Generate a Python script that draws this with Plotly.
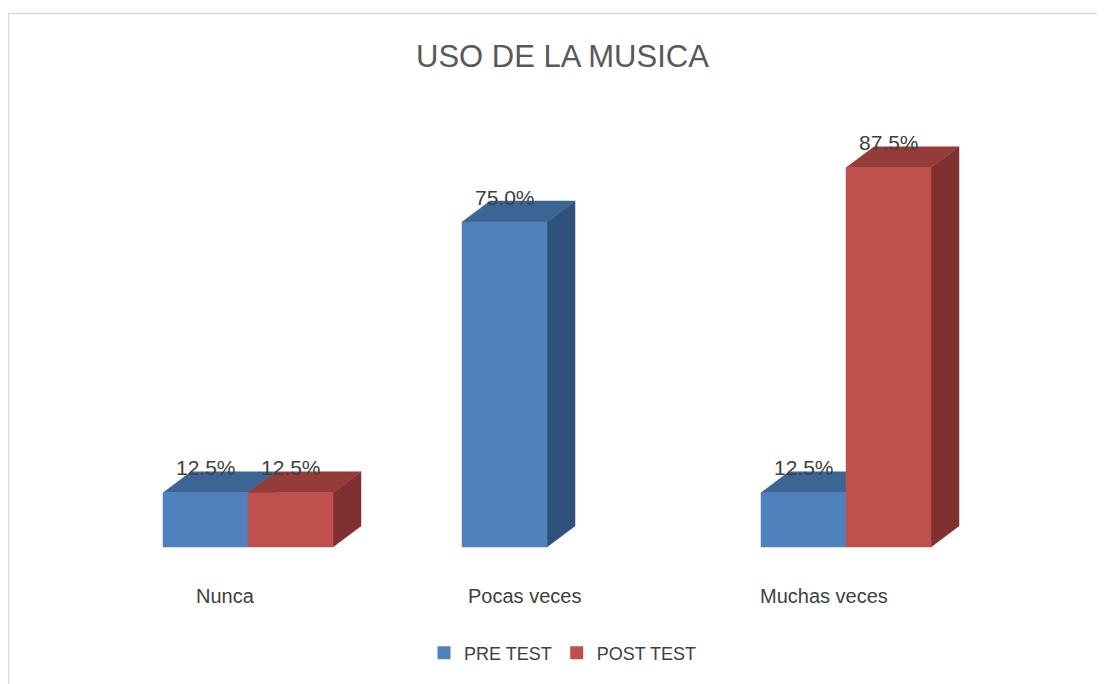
import plotly.graph_objects as go

# ---- data ----
categories = ["Nunca", "Pocas veces", "Muchas veces"]
series_names = ["PRE TEST", "POST TEST"]
pre_test = [12.5, 75.0, 12.5]
post_test = [12.5, 0.0, 87.5]
title_text = "USO DE LA MUSICA"

# ---- style ----
OFF = 8  # page body margin
W, H = 1105 - OFF, 684 - OFF
front_colors = ["#4F81BD", "#C0504D"]
top_colors = ["#3C6594", "#953C3A"]
side_colors = ["#30517B", "#7E3130"]
font_family = "Liberation Sans, Arial, sans-serif"

px_per_x = 299.0
px_per_y = 4.333
x_origin_px = 248.0 - OFF
y_base_px = 547.0 - OFF
bar_w = 85.0 / px_per_x
dx = 28.0 / px_per_x
dy = 21.0 / px_per_y

x_range = [-x_origin_px / px_per_x, (W - x_origin_px) / px_per_x]
y_range = [-(H - y_base_px) / px_per_y, y_base_px / px_per_y]

def py(p):
    return 1 - (p - OFF) / H

def px(p):
    return (p - OFF) / W

fig = go.Figure()
annotations = []

series_values = [pre_test, post_test]
for i, cat in enumerate(categories):
    for s, vals in enumerate(series_values):
        v = vals[i]
        if v <= 0:
            continue
        x0 = i - bar_w if s == 0 else i
        x1 = x0 + bar_w
        # side face
        fig.add_trace(go.Scatter(
            x=[x1, x1 + dx, x1 + dx, x1, x1], y=[0, dy, v + dy, v, 0],
            mode="lines", fill="toself", fillcolor=side_colors[s],
            line=dict(width=0.5, color=side_colors[s]), hoverinfo="skip", showlegend=False))
        # top face
        fig.add_trace(go.Scatter(
            x=[x0, x1, x1 + dx, x0 + dx, x0], y=[v, v, v + dy, v + dy, v],
            mode="lines", fill="toself", fillcolor=top_colors[s],
            line=dict(width=0.5, color=top_colors[s]), hoverinfo="skip", showlegend=False))
        # front face
        fig.add_trace(go.Scatter(
            x=[x0, x1, x1, x0, x0], y=[0, 0, v, v, 0],
            mode="lines", fill="toself", fillcolor=front_colors[s],
            line=dict(width=0.5, color=front_colors[s]),
            name=series_names[s], hovertemplate=f"{cat}: {v:.1f}%<extra>{series_names[s]}</extra>",
            showlegend=False))
        annotations.append(dict(
            x=(x0 + x1) / 2, y=v + dy, xref="x", yref="y", text=f"{v:.1f}%",
            showarrow=False, yanchor="middle", yshift=4,
            font=dict(family=font_family, size=21, color="#404040")))

# legend entries
for s, name in enumerate(series_names):
    fig.add_trace(go.Scatter(
        x=[None], y=[None], mode="markers", name=name,
        marker=dict(symbol="square", size=13, color=front_colors[s])))

# category labels
for i, cat in enumerate(categories):
    annotations.append(dict(
        x=i - 0.075, y=py(596), xref="x", yref="paper", text=cat,
        showarrow=False, xanchor="center", yanchor="middle",
        font=dict(family=font_family, size=20, color="#404040")))

# title
annotations.append(dict(
    x=px(562), y=py(57), xref="paper", yref="paper", text=title_text,
    showarrow=False, xanchor="center", yanchor="middle",
    font=dict(family=font_family, size=31, color="#595959")))

fig.update_layout(
    width=W, height=H,
    margin=dict(l=0, r=0, t=0, b=0),
    paper_bgcolor="white", plot_bgcolor="white",
    xaxis=dict(range=x_range, visible=False, fixedrange=True),
    yaxis=dict(range=y_range, visible=False, fixedrange=True),
    annotations=annotations,
    showlegend=True,
    legend=dict(orientation="h", x=px(563), y=py(653), xanchor="center", yanchor="middle",
                font=dict(family=font_family, size=18, color="#404040"),
                itemwidth=30, tracegroupgap=0, bgcolor="rgba(0,0,0,0)"),
    shapes=[dict(type="rect", xref="paper", yref="paper",
                 x0=px(8.5), x1=1.02, y0=-0.02, y1=py(13.5),
                 line=dict(color="#D9D9D9", width=1.5), fillcolor="rgba(0,0,0,0)", layer="below")],
)

fig.write_html("out.html")
